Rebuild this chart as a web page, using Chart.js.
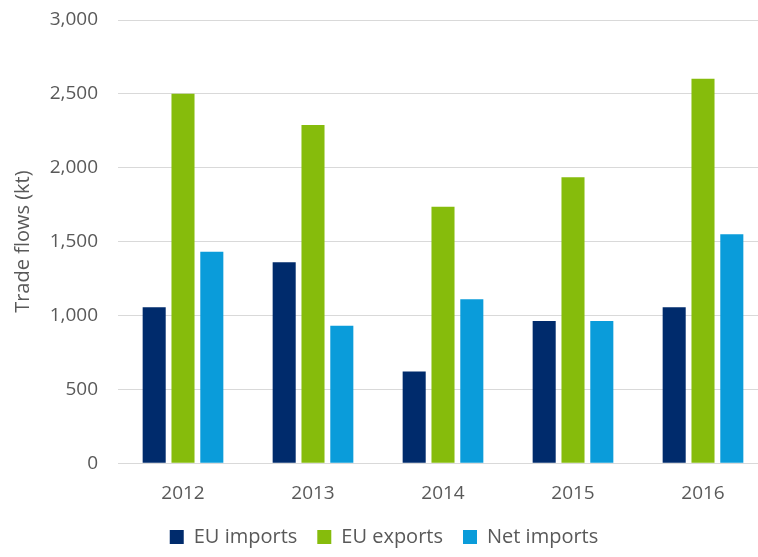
<!DOCTYPE html>
<html>
<head>
<meta charset="utf-8">
<script src="https://cdn.jsdelivr.net/npm/chart.js@4/dist/chart.umd.min.js"></script>
<style>
  html, body { margin: 0; padding: 0; background: #ffffff; overflow: hidden; }
  #wrap { width: 778px; height: 557px; }
</style>
</head>
<body>
<div id="wrap"><canvas id="chart" width="778" height="557"></canvas></div>
<script>
const years = ['2012', '2013', '2014', '2015', '2016'];
const euImports = [1055, 1360, 620, 963, 1055];
const euExports = [2500, 2290, 1736, 1935, 2602];
const netImports = [1432, 931, 1110, 963, 1549];
const yTicks = [0, 500, 1000, 1500, 2000, 2500, 3000];

const FONT = '"Open Sans", "Noto Sans", sans-serif';
const TEXT = '#595959';
const GRID = '#d9d9d9';

new Chart(document.getElementById('chart'), {
  type: 'bar',
  data: {
    labels: years,
    datasets: [
      { label: 'EU imports', data: euImports, backgroundColor: '#002b6c' },
      { label: 'EU exports', data: euExports, backgroundColor: '#86bc0c' },
      { label: 'Net imports', data: netImports, backgroundColor: '#0a9cda' }
    ]
  },
  options: {
    responsive: false,
    animation: false,
    layout: { padding: { top: 20, right: 10, bottom: 0, left: 0 } },
    datasets: { bar: { categoryPercentage: 0.665, barPercentage: 0.8 } },
    plugins: {
      tooltip: { enabled: false },
      legend: {
        position: 'bottom',
        labels: {
          color: TEXT,
          font: { family: FONT, size: 20 },
          boxWidth: 14,
          boxHeight: 14,
          padding: 20
        }
      }
    },
    scales: {
      x: {
        afterFit: (scale) => { scale.height -= 17; },
        grid: { display: false, drawTicks: false },
        border: { display: true, color: GRID, width: 1 },
        ticks: { color: TEXT, font: { family: FONT, size: 19 }, padding: 19 }
      },
      y: {
        min: 0,
        max: 3000,
        afterBuildTicks: (scale) => { scale.ticks = yTicks.map(v => ({ value: v })); },
        afterFit: (scale) => {
          scale.width = 118;
          scale.paddingTop = 0;
          scale.paddingBottom = 0;
        },
        grid: { color: GRID, lineWidth: 1, drawTicks: false },
        border: { display: false },
        ticks: {
          color: TEXT,
          font: { family: FONT, size: 19 },
          padding: 20,
          callback: (v) => v.toLocaleString('en-US')
        },
        title: {
          display: true,
          text: 'Trade flows (kt)',
          color: TEXT,
          font: { family: FONT, size: 20 },
          padding: { top: 11, bottom: 0 }
        }
      }
    }
  }
});
</script>
</body>
</html>
